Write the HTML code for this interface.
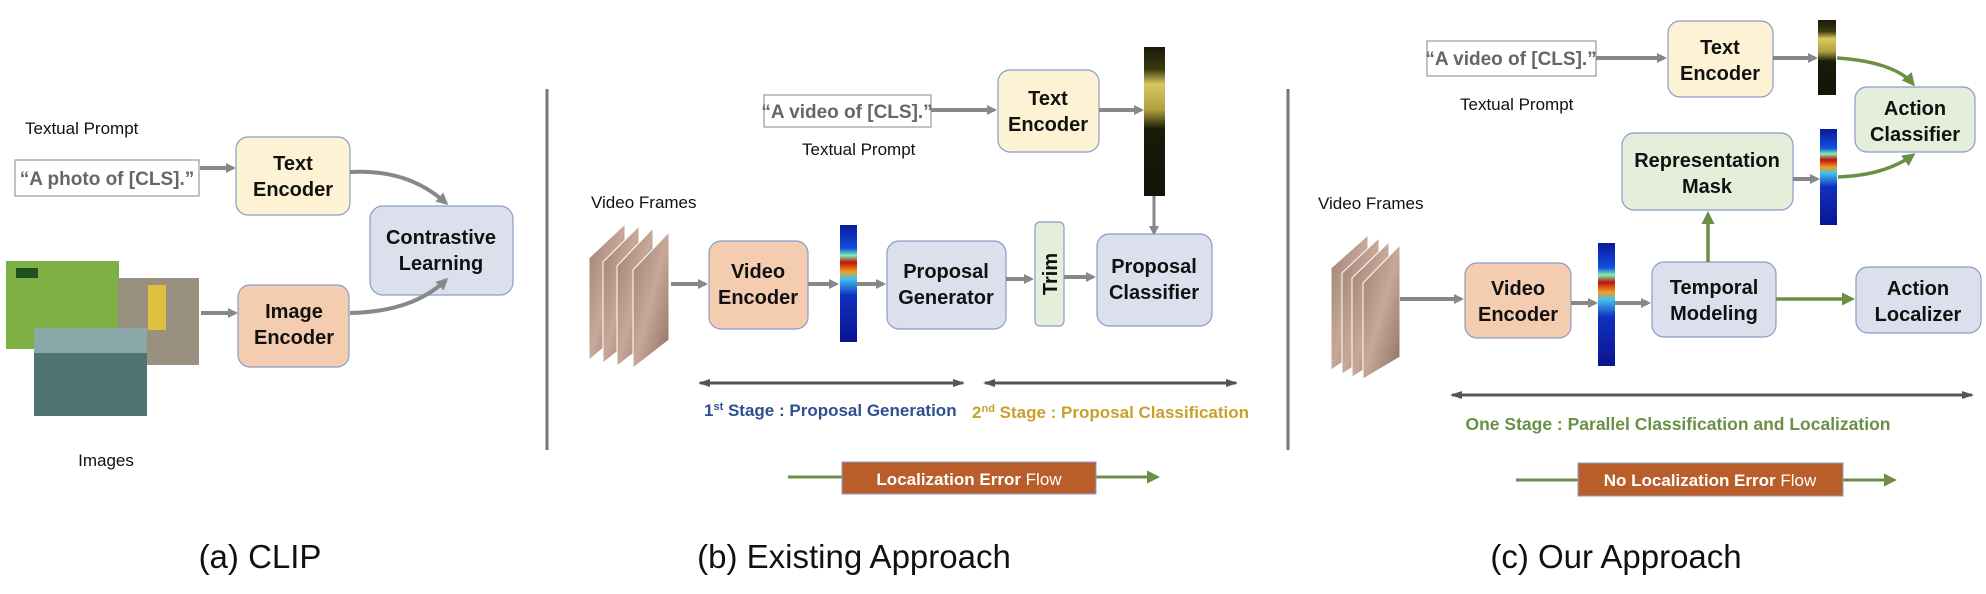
<!DOCTYPE html>
<html><head><meta charset="utf-8"><style>
html,body{margin:0;padding:0;background:#fff}
svg{display:block}
text{font-family:"Liberation Sans",sans-serif}
.b{font-weight:bold;font-size:20px;fill:#111}
.l{font-size:17px;fill:#111}
.p{font-weight:bold;font-size:19px;fill:#666}
.cap{font-size:33px;fill:#111}
</style></head><body>
<svg width="1986" height="594" viewBox="0 0 1986 594" xmlns="http://www.w3.org/2000/svg">
<defs>
<marker id="ag" markerWidth="10" markerHeight="10" refX="7" refY="5" orient="auto" markerUnits="userSpaceOnUse"><path d="M0,0 L10,5 L0,10 z" fill="#888"/></marker>
<marker id="agr" markerWidth="12" markerHeight="12" refX="9" refY="6" orient="auto" markerUnits="userSpaceOnUse"><path d="M0,0 L12,6 L0,12 z" fill="#888"/></marker>
<marker id="ad" markerWidth="12" markerHeight="10" refX="10" refY="5" orient="auto-start-reverse" markerUnits="userSpaceOnUse"><path d="M0,1 L12,5 L0,9 z" fill="#555"/></marker>
<marker id="gg" markerWidth="13" markerHeight="13" refX="10" refY="6.5" orient="auto" markerUnits="userSpaceOnUse"><path d="M0,0 L13,6.5 L0,13 z" fill="#6a8f45"/></marker>
<linearGradient id="heat" x1="0" y1="0" x2="0" y2="1">
<stop offset="0" stop-color="#0a1a9a"/><stop offset="0.2" stop-color="#1050e0"/><stop offset="0.26" stop-color="#80f0b0"/><stop offset="0.32" stop-color="#c01010"/><stop offset="0.4" stop-color="#f0a020"/><stop offset="0.46" stop-color="#40c0f0"/><stop offset="0.6" stop-color="#1030c0"/><stop offset="1" stop-color="#0a1590"/></linearGradient>
<linearGradient id="dark" x1="0" y1="0" x2="0" y2="1">
<stop offset="0" stop-color="#1a1a08"/><stop offset="0.15" stop-color="#3a3a10"/><stop offset="0.25" stop-color="#d8c860"/><stop offset="0.42" stop-color="#b0a040"/><stop offset="0.55" stop-color="#1a1a08"/><stop offset="1" stop-color="#141408"/></linearGradient>
<linearGradient id="frm" x1="0" y1="0" x2="1" y2="1">
<stop offset="0" stop-color="#9a8070"/><stop offset="0.5" stop-color="#c8a898"/><stop offset="1" stop-color="#8a7060"/></linearGradient>
</defs>

<!-- Panel a -->
<text x="25" y="134" class="l">Textual Prompt</text>
<rect x="15" y="160" width="184" height="36" fill="#fff" stroke="#999" stroke-width="1.2"/>
<text x="107" y="185" class="p" text-anchor="middle">“A photo of [CLS].”</text>
<line x1="200" y1="168" x2="233" y2="168" stroke="#888" stroke-width="4" marker-end="url(#ag)"/>
<rect x="236" y="137" width="114" height="78" rx="12" fill="#fdf3d4" stroke="#8a9cc8" stroke-width="1.2"/>
<text x="293" y="170" class="b" text-anchor="middle">Text</text>
<text x="293" y="196" class="b" text-anchor="middle">Encoder</text>
<rect x="370" y="206" width="143" height="89" rx="13" fill="#dbe0ec" stroke="#8a9cc8" stroke-width="1.2"/>
<text x="441" y="244" class="b" text-anchor="middle">Contrastive</text>
<text x="441" y="270" class="b" text-anchor="middle">Learning</text>
<path d="M350,172 C390,170 420,180 446,203" fill="none" stroke="#888" stroke-width="4" marker-end="url(#agr)"/>
<rect x="238" y="285" width="111" height="82" rx="12" fill="#f4cdb0" stroke="#8a9cc8" stroke-width="1.2"/>
<text x="294" y="318" class="b" text-anchor="middle">Image</text>
<text x="294" y="344" class="b" text-anchor="middle">Encoder</text>
<line x1="201" y1="313" x2="235" y2="313" stroke="#888" stroke-width="4" marker-end="url(#ag)"/>
<path d="M350,313 C395,312 425,300 446,280" fill="none" stroke="#888" stroke-width="4" marker-end="url(#agr)"/>
<rect x="6" y="261" width="113" height="88" fill="#7fb045"/>
<rect x="16" y="268" width="22" height="10" fill="#205020"/>
<rect x="118" y="278" width="81" height="87" fill="#9a9080"/>
<rect x="148" y="285" width="18" height="45" fill="#e0c040"/>
<rect x="34" y="328" width="113" height="88" fill="#4f7474"/>
<rect x="34" y="328" width="113" height="25" fill="#8aa8a8"/>
<text x="106" y="466" class="l" text-anchor="middle">Images</text>
<text x="260" y="568" class="cap" text-anchor="middle">(a) CLIP</text>

<line x1="547" y1="89" x2="547" y2="450" stroke="#777" stroke-width="3"/>

<!-- Panel b -->
<rect x="764" y="95" width="167" height="32" fill="#fff" stroke="#999" stroke-width="1.2"/>
<text x="847" y="118" class="p" text-anchor="middle">“A video of [CLS].”</text>
<text x="802" y="155" class="l">Textual Prompt</text>
<line x1="931" y1="110" x2="994" y2="110" stroke="#888" stroke-width="4" marker-end="url(#ag)"/>
<rect x="998" y="70" width="101" height="82" rx="12" fill="#fdf3d4" stroke="#8a9cc8" stroke-width="1.2"/>
<text x="1048" y="105" class="b" text-anchor="middle">Text</text>
<text x="1048" y="131" class="b" text-anchor="middle">Encoder</text>
<line x1="1099" y1="110" x2="1141" y2="110" stroke="#888" stroke-width="4" marker-end="url(#ag)"/>
<rect x="1144" y="47" width="21" height="149" fill="url(#dark)"/>
<line x1="1154" y1="196" x2="1154" y2="233" stroke="#888" stroke-width="3" marker-end="url(#ag)"/>
<text x="591" y="208" class="l">Video Frames</text>
<g>
<polygon points="589,258 625,224 625,330 589,360" fill="url(#frm)" stroke="#fff" stroke-width="1"/>
<polygon points="603,262 639,226 639,334 603,363" fill="url(#frm)" stroke="#fff" stroke-width="1"/>
<polygon points="617,266 653,228 653,338 617,366" fill="url(#frm)" stroke="#fff" stroke-width="1"/>
<polygon points="633,270 669,232 669,340 633,368" fill="url(#frm)" stroke="#fff" stroke-width="1"/>
</g>
<line x1="671" y1="284" x2="705" y2="284" stroke="#888" stroke-width="4" marker-end="url(#ag)"/>
<rect x="709" y="241" width="99" height="88" rx="12" fill="#f4cdb0" stroke="#8a9cc8" stroke-width="1.2"/>
<text x="758" y="278" class="b" text-anchor="middle">Video</text>
<text x="758" y="304" class="b" text-anchor="middle">Encoder</text>
<line x1="808" y1="284" x2="836" y2="284" stroke="#888" stroke-width="4" marker-end="url(#ag)"/>
<rect x="840" y="225" width="17" height="117" fill="url(#heat)"/>
<line x1="857" y1="284" x2="883" y2="284" stroke="#888" stroke-width="4" marker-end="url(#ag)"/>
<rect x="887" y="241" width="119" height="88" rx="12" fill="#dbe0ec" stroke="#8a9cc8" stroke-width="1.2"/>
<text x="946" y="278" class="b" text-anchor="middle">Proposal</text>
<text x="946" y="304" class="b" text-anchor="middle">Generator</text>
<line x1="1006" y1="279" x2="1031" y2="279" stroke="#888" stroke-width="4" marker-end="url(#ag)"/>
<rect x="1035" y="222" width="29" height="104" rx="5" fill="#e4eedb" stroke="#8a9cc8" stroke-width="1.2"/>
<text transform="translate(1057,274) rotate(-90)" class="b" text-anchor="middle">Trim</text>
<line x1="1064" y1="277" x2="1093" y2="277" stroke="#888" stroke-width="4" marker-end="url(#ag)"/>
<rect x="1097" y="234" width="115" height="92" rx="12" fill="#dbe0ec" stroke="#8a9cc8" stroke-width="1.2"/>
<text x="1154" y="273" class="b" text-anchor="middle">Proposal</text>
<text x="1154" y="299" class="b" text-anchor="middle">Classifier</text>
<line x1="700" y1="383" x2="963" y2="383" stroke="#555" stroke-width="3" marker-start="url(#ad)" marker-end="url(#ad)"/>
<line x1="985" y1="383" x2="1236" y2="383" stroke="#555" stroke-width="3" marker-start="url(#ad)" marker-end="url(#ad)"/>
<text x="704" y="416" style="font-weight:bold;font-size:17px;fill:#2f4f8f">1<tspan dy="-6" font-size="11">st</tspan><tspan dy="6"> Stage : Proposal Generation</tspan></text>
<text x="972" y="418" style="font-weight:bold;font-size:17px;fill:#c9a02a">2<tspan dy="-6" font-size="11">nd</tspan><tspan dy="6"> Stage : Proposal Classification</tspan></text>
<line x1="788" y1="477" x2="1157" y2="477" stroke="#6a8f45" stroke-width="3" marker-end="url(#gg)"/>
<rect x="842" y="462" width="254" height="32" fill="#b95e2a" stroke="#8a9cc8" stroke-width="1"/>
<text x="969" y="485" text-anchor="middle" style="font-size:17px;fill:#fff"><tspan font-weight="bold">Localization Error</tspan> Flow</text>
<text x="854" y="568" class="cap" text-anchor="middle">(b) Existing Approach</text>

<line x1="1288" y1="89" x2="1288" y2="450" stroke="#777" stroke-width="3"/>

<!-- Panel c -->
<rect x="1427" y="41" width="169" height="35" fill="#fff" stroke="#999" stroke-width="1.2"/>
<text x="1511" y="65" class="p" text-anchor="middle">“A video of [CLS].”</text>
<text x="1460" y="110" class="l">Textual Prompt</text>
<line x1="1596" y1="58" x2="1664" y2="58" stroke="#888" stroke-width="4" marker-end="url(#ag)"/>
<rect x="1668" y="21" width="105" height="76" rx="12" fill="#fdf3d4" stroke="#8a9cc8" stroke-width="1.2"/>
<text x="1720" y="54" class="b" text-anchor="middle">Text</text>
<text x="1720" y="80" class="b" text-anchor="middle">Encoder</text>
<line x1="1773" y1="58" x2="1815" y2="58" stroke="#888" stroke-width="4" marker-end="url(#ag)"/>
<rect x="1818" y="20" width="18" height="75" fill="url(#dark)"/>
<path d="M1837,58 C1870,60 1900,68 1913,84" fill="none" stroke="#6a8f45" stroke-width="3.5" marker-end="url(#gg)"/>
<rect x="1855" y="87" width="120" height="65" rx="12" fill="#e4eedb" stroke="#8a9cc8" stroke-width="1.2"/>
<text x="1915" y="115" class="b" text-anchor="middle">Action</text>
<text x="1915" y="141" class="b" text-anchor="middle">Classifier</text>
<rect x="1622" y="133" width="171" height="77" rx="12" fill="#e4eedb" stroke="#8a9cc8" stroke-width="1.2"/>
<text x="1707" y="167" class="b" text-anchor="middle">Representation</text>
<text x="1707" y="193" class="b" text-anchor="middle">Mask</text>
<line x1="1793" y1="179" x2="1817" y2="179" stroke="#888" stroke-width="4" marker-end="url(#ag)"/>
<rect x="1820" y="129" width="17" height="96" fill="url(#heat)"/>
<path d="M1838,177 C1870,176 1895,168 1913,155" fill="none" stroke="#6a8f45" stroke-width="3.5" marker-end="url(#gg)"/>
<text x="1318" y="209" class="l">Video Frames</text>
<g>
<polygon points="1331,268 1368,235 1368,345 1331,370" fill="url(#frm)" stroke="#fff" stroke-width="1"/>
<polygon points="1342,273 1379,238 1379,350 1342,374" fill="url(#frm)" stroke="#fff" stroke-width="1"/>
<polygon points="1352,278 1389,242 1389,354 1352,377" fill="url(#frm)" stroke="#fff" stroke-width="1"/>
<polygon points="1363,283 1400,245 1400,357 1363,379" fill="url(#frm)" stroke="#fff" stroke-width="1"/>
</g>
<line x1="1400" y1="299" x2="1461" y2="299" stroke="#888" stroke-width="4" marker-end="url(#ag)"/>
<rect x="1465" y="263" width="106" height="75" rx="12" fill="#f4cdb0" stroke="#8a9cc8" stroke-width="1.2"/>
<text x="1518" y="295" class="b" text-anchor="middle">Video</text>
<text x="1518" y="321" class="b" text-anchor="middle">Encoder</text>
<line x1="1571" y1="303" x2="1595" y2="303" stroke="#888" stroke-width="4" marker-end="url(#ag)"/>
<rect x="1598" y="243" width="17" height="123" fill="url(#heat)"/>
<line x1="1615" y1="303" x2="1648" y2="303" stroke="#888" stroke-width="4" marker-end="url(#ag)"/>
<rect x="1652" y="262" width="124" height="75" rx="12" fill="#dbe0ec" stroke="#8a9cc8" stroke-width="1.2"/>
<text x="1714" y="294" class="b" text-anchor="middle">Temporal</text>
<text x="1714" y="320" class="b" text-anchor="middle">Modeling</text>
<line x1="1708" y1="262" x2="1708" y2="214" stroke="#6a8f45" stroke-width="3.5" marker-end="url(#gg)"/>
<line x1="1776" y1="299" x2="1852" y2="299" stroke="#6a8f45" stroke-width="3.5" marker-end="url(#gg)"/>
<rect x="1856" y="267" width="125" height="66" rx="12" fill="#dbe0ec" stroke="#8a9cc8" stroke-width="1.2"/>
<text x="1918" y="295" class="b" text-anchor="middle">Action</text>
<text x="1918" y="321" class="b" text-anchor="middle">Localizer</text>
<line x1="1452" y1="395" x2="1972" y2="395" stroke="#555" stroke-width="3" marker-start="url(#ad)" marker-end="url(#ad)"/>
<text x="1678" y="430" text-anchor="middle" style="font-weight:bold;font-size:17.5px;fill:#6a8f45">One Stage : Parallel Classification and Localization</text>
<line x1="1516" y1="480" x2="1894" y2="480" stroke="#6a8f45" stroke-width="3" marker-end="url(#gg)"/>
<rect x="1578" y="463" width="265" height="33" fill="#b95e2a" stroke="#8a9cc8" stroke-width="1"/>
<text x="1710" y="486" text-anchor="middle" style="font-size:17px;fill:#fff"><tspan font-weight="bold">No Localization Error</tspan> Flow</text>
<text x="1616" y="568" class="cap" text-anchor="middle">(c) Our Approach</text>
</svg>
</body></html>
